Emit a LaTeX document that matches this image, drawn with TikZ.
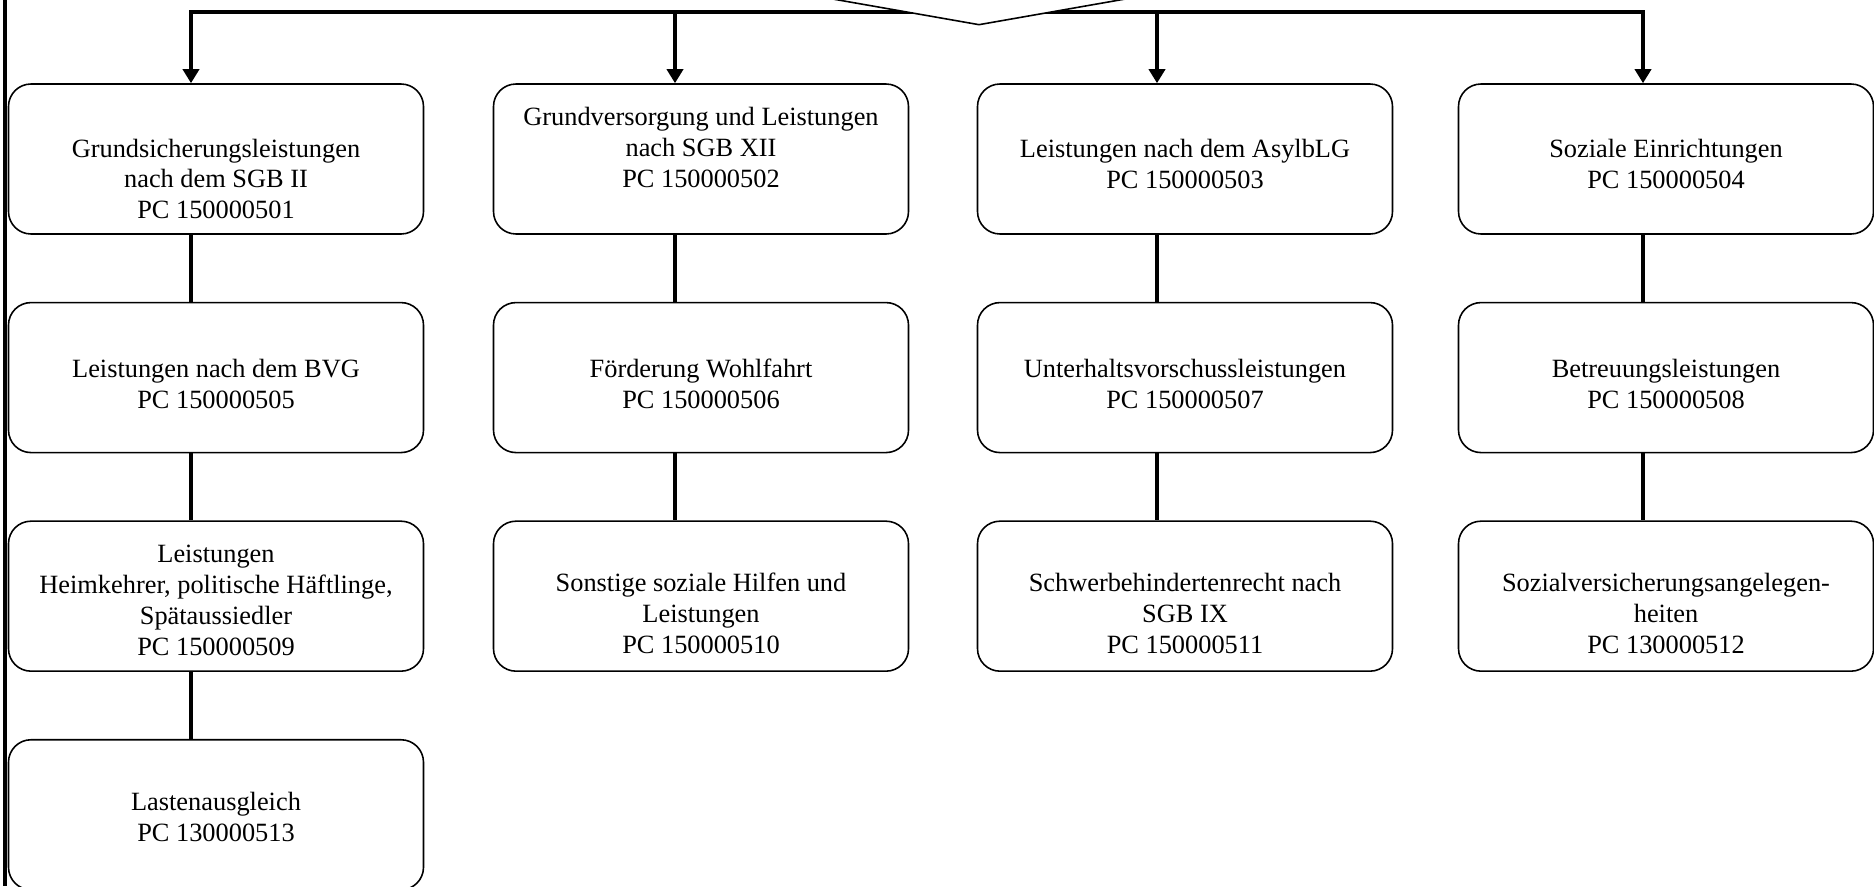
\documentclass[tikz,border=0pt]{standalone}
\usepackage{fontspec}
\setmainfont{Liberation Serif}
\usetikzlibrary{positioning,shapes.geometric,arrows.meta}

\begin{document}
\begin{tikzpicture}[node distance=1.34cm,
      unit/.style={rectangle, rounded corners=0.45cm, draw=black, line width=0.9pt,
        minimum width=8.3cm, minimum height=3cm,
        text height=0pt, text depth=0pt,
        font=\fontsize{15pt}{17.6pt}\selectfont},
      lift/.style={text depth=#1},
      link/.style={line width=2.1pt},
      arr/.style={line width=2.1pt,-{Triangle[length=0.28cm,width=0.32cm]}}
      ]
      \useasboundingbox (0,0) rectangle (37.48,-17.72);
      % first row
      \node (p501) [unit,lift=2.2pt] at (4.32,-3.18)
      {\begin{tabular}[t]{c} Grundsicherungsleistungen \\ nach dem SGB II \\ PC 150000501 \end{tabular}};
      \node (p502) [unit,lift=38pt] at (14.02,-3.18)
      {\begin{tabular}[t]{c} Grundversorgung und Leistungen \\ nach SGB XII \\ PC 150000502 \end{tabular}};
      \node (p503) [unit,lift=2pt] at (23.70,-3.18)
      {\begin{tabular}[t]{c} Leistungen nach dem AsylbLG \\ PC 150000503 \end{tabular}};
      \node (p504) [unit,lift=2pt] at (33.32,-3.18)
      {\begin{tabular}[t]{c} Soziale Einrichtungen \\ PC 150000504 \end{tabular}};
      % second row
      \node (p505) [unit,below=of p501]
      {\begin{tabular}[t]{c} Leistungen nach dem BVG \\ PC 150000505 \end{tabular}};
      \node (p506) [unit,below=of p502]
      {\begin{tabular}[t]{c} F\"orderung Wohlfahrt \\ PC 150000506 \end{tabular}};
      \node (p507) [unit,below=of p503]
      {\begin{tabular}[t]{c} Unterhaltsvorschussleistungen \\ PC 150000507 \end{tabular}};
      \node (p508) [unit,below=of p504]
      {\begin{tabular}[t]{c} Betreuungsleistungen \\ PC 150000508 \end{tabular}};
      % third row
      \node (p509) [unit,lift=38pt,below=of p505]
      {\begin{tabular}[t]{c} Leistungen \\ Heimkehrer, politische H\"aftlinge, \\ Sp\"ataussiedler \\ PC 150000509 \end{tabular}};
      \node (p510) [unit,lift=5pt,below=of p506]
      {\begin{tabular}[t]{c} Sonstige soziale Hilfen und \\ Leistungen \\ PC 150000510 \end{tabular}};
      \node (p511) [unit,lift=5pt,below=of p507]
      {\begin{tabular}[t]{c} Schwerbehindertenrecht nach \\ SGB IX \\ PC 150000511 \end{tabular}};
      \node (p512) [unit,lift=5pt,below=of p508]
      {\begin{tabular}[t]{c} Sozialversicherungsangelegen- \\ heiten \\ PC 130000512 \end{tabular}};
      % fourth row
      \node (p513) [unit,lift=4.8pt,below=of p509]
      {\begin{tabular}[t]{c} Lastenausgleich \\ PC 130000513 \end{tabular}};
      % bus and arrows
      \coordinate (c1) at (3.82,-0.24);
      \coordinate (c2) at (13.50,-0.24);
      \coordinate (c3) at (23.14,-0.24);
      \coordinate (c4) at (32.86,-0.24);
      \draw[link] (c2) -- (c3);
      \draw[arr] (c2) -- (c1) -- (p501.north -| c1);
      \draw[arr] (c2) -- (p502.north -| c2);
      \draw[arr] (c3) -- (p503.north -| c3);
      \draw[arr] (c3) -- (c4) -- (p504.north -| c4);
      \node (top) [diamond, draw=black, fill=white, line width=0.9pt, inner sep=0pt,
        minimum width=17.04cm, minimum height=3cm] at (19.58,1.0) {};
      % columns
      \draw[link] (p501.south -| c1) -- (p505.north -| c1);
      \draw[link] (p505.south -| c1) -- (p509.north -| c1);
      \draw[link] (p509.south -| c1) -- (p513.north -| c1);
      \draw[link] (p502.south -| c2) -- (p506.north -| c2);
      \draw[link] (p506.south -| c2) -- (p510.north -| c2);
      \draw[link] (p503.south -| c3) -- (p507.north -| c3);
      \draw[link] (p507.south -| c3) -- (p511.north -| c3);
      \draw[link] (p504.south -| c4) -- (p508.north -| c4);
      \draw[link] (p508.south -| c4) -- (p512.north -| c4);
      % left line
      \coordinate (lt) at (0.1,0);
      \coordinate (lb) at (0.1,-17.72);
      \draw[link,line width=2.4pt] (lt) -- (lb);
\end{tikzpicture}
\end{document}
